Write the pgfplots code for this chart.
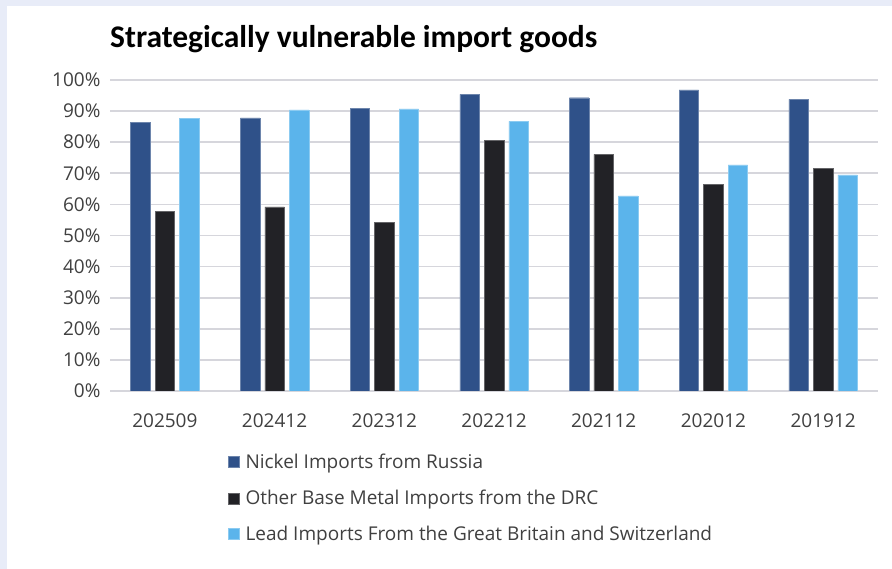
\documentclass[border=0pt]{standalone}
\usepackage{fontspec}
\setmainfont{Open Sans}
\newfontfamily\titlefont{Carlito}
\usepackage{pgfplots}
\pgfplotsset{compat=1.18}
\definecolor{bgband}{RGB}{232,236,248}
\definecolor{nickel}{RGB}{47,81,137}
\definecolor{drc}{RGB}{34,34,38}
\definecolor{lead}{RGB}{91,180,235}
\definecolor{gridc}{RGB}{214,214,220}
\definecolor{tickc}{RGB}{64,64,64}
\begin{document}
\begin{tikzpicture}[x=1pt,y=1pt]
\useasboundingbox (0,0) rectangle (892,569);
\fill[bgband] (0,0) rectangle (892,569);
\fill[white] (7,0) rectangle (892,563);
\node[anchor=west,inner sep=0pt] at (110,530) {\titlefont\bfseries\fontsize{31.5}{36}\selectfont Strategically vulnerable import goods};
\begin{axis}[
  at={(110pt,178pt)}, anchor=south west,
  scale only axis, width=768pt, height=311pt,
  ybar, bar width=19.5pt,
  xmin=-0.5, xmax=6.5, ymin=0, ymax=100,
  xtick=data,
  xticklabels={202509,202412,202312,202212,202112,202012,201912},
  ytick={0,10,...,100},
  yticklabel={\pgfmathprintnumber{\tick}\%},
  /pgf/number format/assume math mode=true,
  ymajorgrids, grid style={gridc,line width=1.7pt},
  axis line style={draw=none},
  axis x line*=bottom,
  x axis line style={gridc,line width=1.7pt},
  major tick length=0pt,
  tick label style={font=\fontsize{19}{23}\selectfont, text=tickc},
  yticklabel style={xshift=-6pt},
  xticklabel style={yshift=-19pt},
  legend style={at={(0.1536,-0.196)}, anchor=north west, draw=none, fill=none,
    font=\fontsize{19}{23}\selectfont, text=tickc, legend cell align=left,
    row sep=16pt, inner sep=0pt},
  legend image code/.code={\fill[#1] (0pt,-5.5pt) rectangle (11pt,5.5pt);},
]
\addplot[fill=nickel, draw=nickel!70!white, bar shift=-24.5pt] coordinates {(0,86.4) (1,87.8) (2,90.8) (3,95.4) (4,94.3) (5,96.8) (6,93.8)};
\addplot[fill=drc, draw=drc!70!white, bar shift=0pt] coordinates {(0,57.7) (1,59.2) (2,54.2) (3,80.5) (4,76.1) (5,66.5) (6,71.5)};
\addplot[fill=lead, draw=lead!70!white, bar shift=24.5pt] coordinates {(0,87.6) (1,90.4) (2,90.7) (3,86.7) (4,62.7) (5,72.7) (6,69.5)};
\legend{\hspace{4pt}Nickel Imports from Russia, \hspace{4pt}Other Base Metal Imports from the DRC, \hspace{4pt}Lead Imports From the Great Britain and Switzerland}
\end{axis}
\end{tikzpicture}
\end{document}
